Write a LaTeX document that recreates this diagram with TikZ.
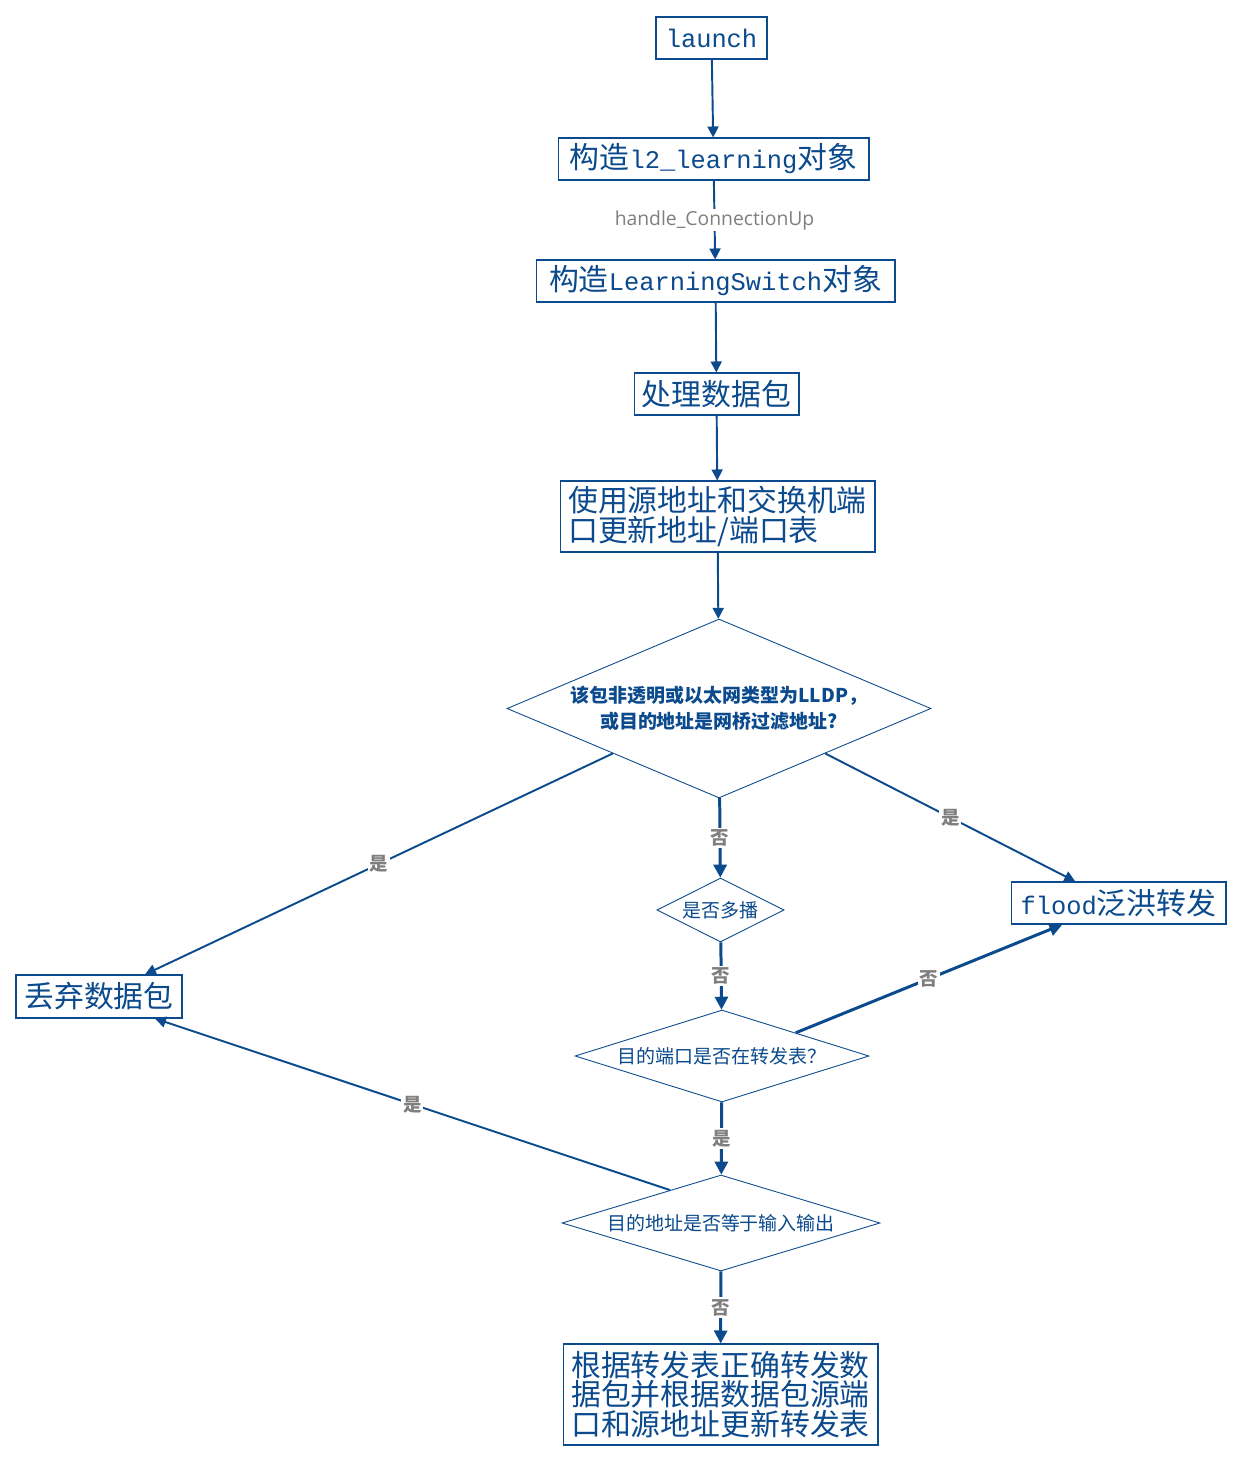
\documentclass[tikz,border=0pt]{standalone}
\usepackage{fontspec}
\setmainfont{Noto Sans CJK SC}
\setmonofont{Liberation Mono}[Scale=0.85]
\newfontfamily\edgefont{Open Sans}
\usetikzlibrary{shapes.geometric,arrows.meta,calc}
\definecolor{flowblue}{HTML}{0B4A8C}
\definecolor{flowgray}{HTML}{7F7F7F}

\begin{document}
\begin{tikzpicture}[x=0.02cm,y=-0.02cm,
    box/.style={draw=flowblue, line width=0.6pt, text=flowblue,
        font=\fontsize{17}{16.8}\selectfont, inner sep=0pt},
    decision/.style={diamond, draw=flowblue, line width=0.5pt, text=flowblue,
        inner sep=0pt, align=center, font=\fontsize{10.8}{14.8}\selectfont},
    flow/.style={draw=flowblue, line width=1.1pt, -{Triangle[length=2.2mm,width=2.2mm]}},
    thickflow/.style={flow, line width=1.7pt, -{Triangle[length=2.6mm,width=2.6mm]}},
    yn/.style={fill=white, text=flowgray, font=\bfseries\fontsize{10.5}{11}\selectfont, inner sep=1pt}]
\useasboundingbox[fill=white] (0,0) rectangle (1243,1462);

\node[box, minimum width=2.22cm, minimum height=0.84cm] (launch) at (711.5,38) {\texttt{launch}};
\node[box, minimum width=6.22cm, minimum height=0.84cm] (l2) at (713.5,159) {构造\texttt{l2\_learning}对象};
\node[box, minimum width=7.18cm, minimum height=0.84cm] (switch) at (715.5,281) {构造\texttt{LearningSwitch}对象};
\node[box, minimum width=3.3cm, minimum height=0.84cm] (handle) at (716.5,394) {处理数据包};
\node[box, minimum width=6.3cm, minimum height=1.42cm, align=left] (update) at (717.5,516.5) {使用源地址和交换机端\\口更新地址/端口表};
\node[decision, shape aspect=2.37, minimum width=8.48cm, minimum height=3.58cm, font=\bfseries\fontsize{10.8}{14.8}\selectfont] (filter) at (719,708.5) {该包非透明或以太网类型为LLDP，\\或目的地址是网桥过滤地址?};
\node[decision, shape aspect=2, minimum width=2.54cm, minimum height=1.28cm] (multicast) at (720.5,910) {是否多播};
\node[box, minimum width=4.3cm, minimum height=0.84cm] (flood) at (1118.5,903) {\texttt{flood}泛洪转发};
\node[box, minimum width=3.32cm, minimum height=0.86cm] (drop) at (99,996.5) {丢弃数据包};
\node[decision, shape aspect=3.2, minimum width=5.88cm, minimum height=1.84cm] (intable) at (722,1056) {目的端口是否在转发表？};
\node[decision, shape aspect=3.3, minimum width=6.36cm, minimum height=1.92cm] (sameport) at (721,1223) {目的地址是否等于输入输出};
\node[box, minimum width=6.3cm, minimum height=2.02cm, align=left] (forward) at (720.5,1394.5) {根据转发表正确转发数\\据包并根据数据包源端\\口和源地址更新转发表};

\draw[flow] (launch) -- (l2);
\draw[flow] (l2) -- node[fill=white, text=flowgray, inner sep=1pt, font=\edgefont\fontsize{11}{12}\selectfont] {handle\_ConnectionUp} (switch);
\draw[flow] (switch) -- (handle);
\draw[flow] (handle) -- (update);
\draw[flow] (update) -- (filter);
\draw[flow] (filter.south west) -- node[yn] {是} ($(drop.north)!0.55!(drop.north east)$);
\draw[flow] (filter.south east) -- node[yn] {是} ($(flood.north)!0.4!(flood.north west)$);
\draw[thickflow] (filter) -- node[yn] {否} (multicast);
\draw[thickflow] (multicast) -- node[yn] {否} (intable);
\draw[thickflow] (intable.north east) -- node[yn] {否} ($(flood.south)!0.52!(flood.south west)$);
\draw[thickflow] (intable) -- node[yn] {是} (sameport);
\draw[flow] ($(sameport.west)!0.68!(sameport.north)$) -- node[yn] {是} ($(drop.south)!0.67!(drop.south east)$);
\draw[thickflow] (sameport) -- node[yn] {否} (forward);
\end{tikzpicture}
\end{document}
